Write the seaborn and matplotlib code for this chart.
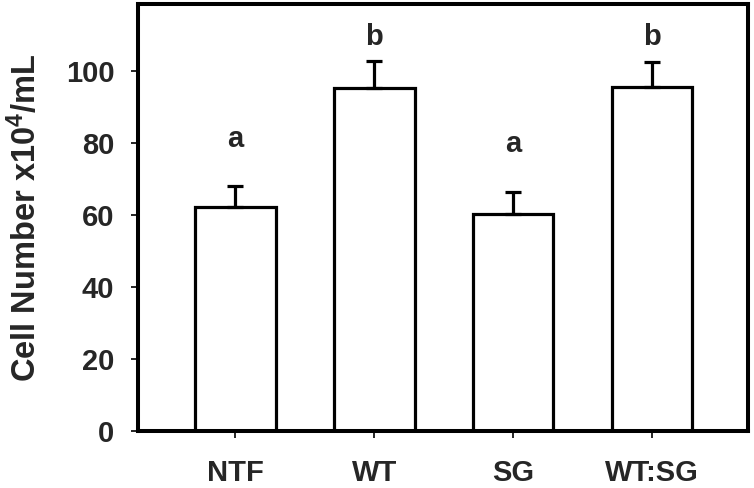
import matplotlib
matplotlib.use("Agg")
import matplotlib.pyplot as plt
import seaborn as sns
import pandas as pd

categories = ["NTF", "WT", "SG", "WT:SG"]
cell_number = [62.3, 95.3, 60.2, 95.5]
error_up = [5.8, 7.5, 6.1, 7.0]
letters = ["a", "b", "a", "b"]
letter_y = [79.0, 107.3, 77.6, 107.3]

sns.set_style("white")
plt.rcParams['font.family'] = ['Liberation Sans', 'DejaVu Sans']
plt.rcParams['font.weight'] = 'bold'
plt.rcParams['mathtext.fontset'] = 'custom'
plt.rcParams['mathtext.rm'] = 'Liberation Sans:bold'
plt.rcParams['mathtext.it'] = 'Liberation Sans:bold'
plt.rcParams['mathtext.bf'] = 'Liberation Sans:bold'

df = pd.DataFrame({"group": categories, "value": cell_number})

fig = plt.figure(figsize=(7.54, 4.88), dpi=100)
ax = fig.add_axes([138/754, 1-431/488, 610/754, 427/488])

sns.barplot(data=df, x="group", y="value", order=categories, color="white",
            edgecolor="black", linewidth=2.3, width=0.58, errorbar=None,
            saturation=1, ax=ax, zorder=2)

ax.errorbar(range(len(categories)), cell_number,
            yerr=[[0]*len(categories), error_up], fmt="none",
            ecolor="black", elinewidth=2.3, capsize=6, capthick=2.3, zorder=3)

for i, (t, yy) in enumerate(zip(letters, letter_y)):
    ax.text(i, yy, t, ha="center", va="baseline", fontsize=21, fontweight="bold")

ax.set_xlim(-0.70, 3.69)
ax.set_ylim(0, 118.6)
ax.set_yticks([0, 20, 40, 60, 80, 100])
ax.set_xlabel("")
ax.set_ylabel(r"Cell Number x10$^{4}$/mL", fontsize=23.5, fontweight="bold", labelpad=16)

for s in ax.spines.values():
    s.set_visible(True)
    s.set_linewidth(2.9)
    s.set_color("black")

ax.tick_params(axis="both", which="major", direction="out", length=5, width=1.2,
               color="black", labelsize=21, bottom=True, left=True)
ax.tick_params(axis="x", pad=15)
ax.tick_params(axis="y", pad=12)
for lab in ax.get_xticklabels() + ax.get_yticklabels():
    lab.set_fontweight("bold")

fig.savefig("out.png", dpi=100)
